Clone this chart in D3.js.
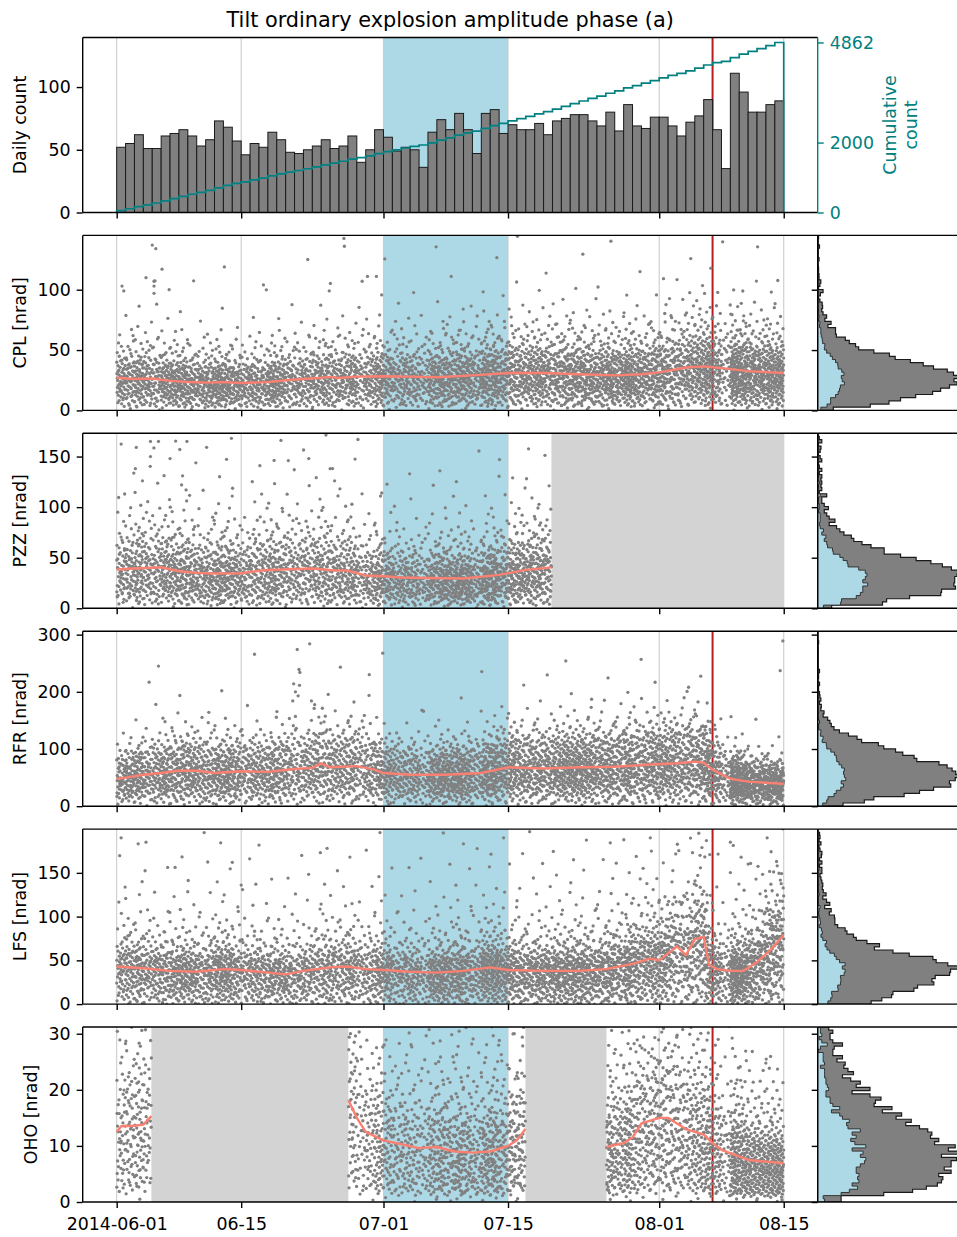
<!DOCTYPE html>
<html><head><meta charset="utf-8">
<script src="https://cdn.jsdelivr.net/npm/d3@7/dist/d3.min.js"></script>
<style>
html,body{margin:0;padding:0;background:#fff;}
svg{display:block;}
</style></head><body>
<svg id="chart" width="957" height="1237" xmlns="http://www.w3.org/2000/svg"></svg>
<script>
// ================= DATA =================
const chartTitle = "Tilt ordinary explosion amplitude phase (a)";
// daily event counts, 2014-06-01 ... 2014-08-14 (75 days), total 4862
const dailyCounts = [52,55,62,51,51,61,63,66,61,53, 58,73,68,57,46,55,52,64,58,48,
  47,50,53,58,51,53,61,40,50,66, 60,49,52,50,36,64,74,66,79,66,
  47,79,82,63,70,66,66,71,62,73, 75,78,78,73,69,80,65,86,69,67,
  76,76,69,61,72,77,90,66,35,111, 96,80,80,86,89];
const dailyTickValues = [0, 50, 100];
const cumulativeTickValues = [0, 2000, 4862];
const xTickDays = [0, 14, 30, 44, 61, 75];          // days after 2014-06-01
const xTickLabels = ["2014-06-01","06-15","07-01","07-15","08-01","08-15"];
const blueSpanDays = [30, 44];                      // 07-01 .. 07-15
const redLineDay = 67.0;                            // 08-07

const stationNames = ["CPL","PZZ","RFR","LFS","OHO"];
const stationYMax = [145, 173, 306, 200, 31.2];
const stationYTicks = [[0,50,100],[0,50,100,150],[0,100,200,300],[0,50,100,150],[0,10,20,30]];
const stationGaps = [[], [[48.88,75]], [], [], [[3.9,26.05],[45.96,55.07]]];

// running median lines [day, nrad]; null = break
const CPL_median = [[0,27],[2,26],[4,26.4],[6,24.5],[8,23.5],[10,23],[12,23.4],[14,22.7],[17,23.4],[19,25],[21,26],[23,27],[24,27.8],[25,26.8],[27,28],[30,28.3],[33,28],[36,27.5],[40,29],[44,31],[48,31],[52,30],[56,29],[59,30],[61,31.5],[64,35.5],[66,36.5],[68,35],[71,32.5],[75,31]];
const PZZ_median = [[0,38.3],[2,39.3],[5,40.6],[7,36.6],[9,35],[11,34.4],[14,34.7],[16.5,37.6],[19.5,38.6],[22,39.3],[24.5,37.3],[26,37.3],[28,32.4],[30,31.7],[32,30.4],[35,30],[39,29.5],[43,33],[46,38],[48.9,40.5]];
const RFR_median = [[0,48],[1,50],[3,55],[5,58],[7,62],[9,62],[11,58],[14,61],[17,60],[20,65],[22,67],[23,75],[24,68],[27,70],[29,64],[30,58],[33,55],[37,55],[41,58],[44,68],[48,66],[52,68],[56,69],[60,73],[63,75],[65,78],[66,76],[67,64],[69,48],[71,43],[75,39]];
const LFS_median = [[0,43],[3,41],[6,38],[9,37],[12,40],[14,39],[17,36],[19,34],[21,38],[24,42],[26,43],[28,40],[30,39],[33,37],[36,36],[39,38],[42,42],[44,39],[48,38],[52,38],[55,40],[58,46],[60,52],[61,50],[62,58],[63,66],[64,56],[65,74],[66,77],[66.6,45],[67.5,40],[69,38],[70.5,38],[72,48],[73.5,62],[75,79]];
const OHO_median = [[0,12.5],[0.5,13.5],[2,13.6],[3,13.8],[3.9,15.3],null,
  [26.05,18.2],[27,15],[28,12.5],[30,11],[32,10.3],[34,9.6],[36,9.8],[38,9],[40,8.8],[42,9],[44,10],[45,11],[45.96,13],null,
  [55.07,9.8],[57,10.5],[58,11.5],[59,14],[60,14.5],[61,15],[62,15],[63,14],[64,13],[65,12.5],[66,12],[67,10.5],[68,9.3],[71,7.5],[75,6.9]];

// amplitude distribution shapes (bin edges, relative density)
const CPL_binEdges = [0,3,6,10,14,19.5,25,30,33,37,43,47,55,65,77,95,145,170];
const CPL_binDensity = [40,180,220,290,360,395,410,390,320,270,160,100,55,22,7,1.6,0.4];
const PZZ_binEdges = [0,3,10,15,20,26.5,35,38,43,50,55,60,68,76,86,99,116,150,173];
const PZZ_binDensity = [30,190,310,380,380,385,420,370,240,210,155,90,60,38,18,11,5,1.5];
const RFR_binEdges = [0,3,15,24,33,44,53,61,70,82,97,105,117,129,149,167,202,290];
const RFR_binDensity = [25,130,240,330,370,410,410,360,310,250,150,85,45,18,6,2.5,0.5];
const LFS_binEdges = [0,4.6,12,18,26,31,37,43,48,54,64,69,80,96,115,153,199];
const LFS_binDensity = [160,220,290,350,380,420,390,330,210,120,80,50,25,13,7,3];
const OHO_binEdges = [0,1,1.6,3.4,4.6,5.5,6.4,7.5,8.7,9.9,12.3,13.5,14.7,16.5,18.3,20.7,22.5,25.5,31];
const OHO_binDensity = [60,180,320,360,330,370,420,370,330,320,240,190,120,80,70,50,35,25];

// isolated large amplitudes [day, nrad]
const CPL_outliers = [[0.6,103],[0.8,99],[3.3,110],[4.0,137],[4.2,107],[4.2,103],[4.2,97],[4.4,134],[4.5,88],[5.1,117],[5.9,100],[16.5,104],[23.9,99],[25.6,136],[27.6,107],[28.2,111],[29.2,111]];
const PZZ_outliers = [[0.9,113],[2.1,138],[2.2,159],[2.9,126],[3.8,150],[3.8,165],[4.7,165],[6,148],[7.1,157],[7.3,122],[7.8,117],[7.9,165],[12.9,168],[16.1,141],[19.3,146],[21.6,148],[24,138],[24.5,126],[29.8,114]];
const RFR_outliers = [[4.4,178],[4.7,245],[5.2,154],[10.3,146],[19.8,184],[19.9,214],[20.1,200],[20.1,157],[20.3,274],[20.4,193],[20.5,239],[20.6,234],[21.7,284],[21.9,184],[22.2,171],[27.6,149],[28.4,230],[34.5,166],[50.5,254],[53.4,187],[64.3,208],[74.6,237],[74.9,289]];
const LFS_outliers = [[0.5,190],[3.3,185],[13,162],[14,136],[22.9,173],[43.5,190],[60,190],[69,185],[71,160]];
const OHO_outliers = [];

// ================= LAYOUT =================
const FONT = "DejaVu Sans, Verdana, sans-serif";
const TICK_FS = 17.4;
const L = 82.7, R = 817.7, HR = 965, PH = 175;
const tops = [37.5, 235.4, 433.3, 631.2, 829.1, 1027.0];
const DAY = 864e5, T0 = Date.UTC(2014, 5, 1);
const toDate = d => new Date(T0 + d * DAY);
const x = d3.scaleUtc().domain([toDate(-3.82), toDate(78.82)]).range([L, R]);
function radicalInverse(i, b) { let f = 1, r = 0; while (i > 0) { f /= b; r += f * (i % b); i = Math.floor(i / b); } return r; }

const svg = d3.select("#chart");
const defs = svg.append("defs");

function styleAxis(g, color) {
  g.attr("font-size", TICK_FS).attr("font-family", FONT);
  g.select(".domain").remove();
  g.selectAll(".tick line").attr("stroke-width", 1.4).attr("stroke", color || "#000");
  g.selectAll(".tick text").attr("fill", color || "#000");
}
function addClip(id, x0, y0, w, h) {
  defs.append("clipPath").attr("id", id).append("rect").attr("x", x0).attr("y", y0).attr("width", w).attr("height", h);
}
function drawBlueAndGrid(g, y0) {
  const bx0 = x(toDate(blueSpanDays[0])), bx1 = x(toDate(blueSpanDays[1]));
  g.append("rect").attr("x", bx0).attr("y", y0).attr("width", bx1 - bx0).attr("height", PH).attr("fill", "#add8e6");
  g.selectAll("line.grid").data(xTickDays).join("line").attr("class", "grid")
    .attr("x1", d => x(toDate(d))).attr("x2", d => x(toDate(d)))
    .attr("y1", y0).attr("y2", y0 + PH).attr("stroke", "#cccccc").attr("stroke-width", 1.1);
}
function drawGaps(g, y0, gaps) {
  gaps.forEach(s => {
    const a = x(toDate(s[0])), b = x(toDate(s[1]));
    g.append("rect").attr("x", a).attr("y", y0).attr("width", b - a).attr("height", PH).attr("fill", "#d3d3d3");
  });
}
function drawRedLine(g, y0) {
  const rx = x(toDate(redLineDay));
  g.append("line").attr("x1", rx).attr("x2", rx).attr("y1", y0).attr("y2", y0 + PH)
    .attr("stroke", "#b81c1c").attr("stroke-width", 2);
}
function drawXAxis(y0, withLabels) {
  const ax = d3.axisBottom(x).tickValues(xTickDays.map(toDate)).tickSize(6).tickPadding(9.5)
    .tickFormat((d, i) => withLabels ? xTickLabels[i] : "");
  const g = svg.append("g").attr("transform", `translate(0,${y0 + PH})`).call(ax);
  styleAxis(g);
}
function drawYLabel(axisG, text, cy) {
  const bb = axisG.node().getBBox();
  const bx = L + bb.x - 7 - 4.3;
  svg.append("text").attr("transform", `translate(${bx},${cy}) rotate(-90)`)
    .attr("text-anchor", "middle").attr("font-size", TICK_FS).attr("font-family", FONT).text(text);
}
function spines(x0, x1, y0, colorRight) {
  const s = svg.append("g").attr("stroke-width", 1.4).attr("fill", "none");
  s.append("line").attr("x1", x0).attr("x2", x1).attr("y1", y0).attr("y2", y0).attr("stroke", "#000");
  s.append("line").attr("x1", x0).attr("x2", x1).attr("y1", y0 + PH).attr("y2", y0 + PH).attr("stroke", "#000");
  s.append("line").attr("x1", x0).attr("x2", x0).attr("y1", y0).attr("y2", y0 + PH).attr("stroke", "#000");
  if (colorRight) s.append("line").attr("x1", x1).attr("x2", x1).attr("y1", y0).attr("y2", y0 + PH).attr("stroke", colorRight);
}

// ================= TOP PANEL =================
(function () {
  const y0 = tops[0];
  const yTop = d3.scaleLinear().domain([0, 139.5]).range([y0 + PH, y0]);
  const yCum = d3.scaleLinear().domain([0, 5005]).range([y0 + PH, y0]);
  addClip("clip0", L, y0, R - L, PH);
  const g = svg.append("g").attr("clip-path", "url(#clip0)");
  drawBlueAndGrid(g, y0);
  drawRedLine(g, y0);
  g.selectAll("rect.bar").data(dailyCounts).join("rect").attr("class", "bar")
    .attr("x", (c, i) => x(toDate(i))).attr("width", (c, i) => x(toDate(i + 1)) - x(toDate(i)))
    .attr("y", c => yTop(c)).attr("height", c => yTop(0) - yTop(c))
    .attr("fill", "#808080").attr("stroke", "#1a1a1a").attr("stroke-width", 1);
  const cum = d3.cumsum(dailyCounts);
  const stepPts = [[0, 0]];
  dailyCounts.forEach((c, i) => { stepPts.push([i, cum[i]]); stepPts.push([i + 1, cum[i]]); });
  stepPts.push([dailyCounts.length, 0]);
  const line = d3.line().x(p => x(toDate(p[0]))).y(p => yCum(p[1]));
  g.append("path").attr("d", line(stepPts)).attr("fill", "none").attr("stroke", "#008080").attr("stroke-width", 1.7);

  spines(L, R, y0, "#008080");
  drawXAxis(y0, false);
  const ay = svg.append("g").attr("transform", `translate(${L},0)`)
    .call(d3.axisLeft(yTop).tickValues(dailyTickValues).tickSize(6).tickPadding(6));
  styleAxis(ay);
  drawYLabel(ay, "Daily count", y0 + PH / 2);
  const ar = svg.append("g").attr("transform", `translate(${R},0)`)
    .call(d3.axisRight(yCum).tickValues(cumulativeTickValues).tickSize(6).tickPadding(6).tickFormat(d3.format("d")));
  styleAxis(ar, "#008080");
  const cl = svg.append("g").attr("font-size", TICK_FS).attr("font-family", FONT).attr("fill", "#008080");
  cl.append("text").attr("transform", `translate(896,${y0 + PH / 2}) rotate(-90)`).attr("text-anchor", "middle").text("Cumulative");
  cl.append("text").attr("transform", `translate(916.5,${y0 + PH / 2}) rotate(-90)`).attr("text-anchor", "middle").text("count");
  svg.append("text").attr("x", (L + R) / 2).attr("y", 27).attr("text-anchor", "middle")
    .attr("font-size", 20.8).attr("font-family", FONT).text(chartTitle);
})();

// ================= STATION PANELS =================
const medians = [CPL_median, PZZ_median, RFR_median, LFS_median, OHO_median];
const binEdges = [CPL_binEdges, PZZ_binEdges, RFR_binEdges, LFS_binEdges, OHO_binEdges];
const binDens = [CPL_binDensity, PZZ_binDensity, RFR_binDensity, LFS_binDensity, OHO_binDensity];
const outliers = [CPL_outliers, PZZ_outliers, RFR_outliers, LFS_outliers, OHO_outliers];

function makeInvCDF(edges, dens) {
  const mass = dens.map((v, i) => v * (edges[i + 1] - edges[i]));
  const tot = d3.sum(mass);
  const cum = Array.from(d3.cumsum(mass), c => c / tot);
  return q => {
    let i = d3.bisectLeft(cum, q);
    if (i >= dens.length) i = dens.length - 1;
    const c0 = i ? cum[i - 1] : 0;
    const f = (q - c0) / (cum[i] - c0);
    return edges[i] + f * (edges[i + 1] - edges[i]);
  };
}

stationNames.forEach((name, p) => {
  const y0 = tops[p + 1];
  const ymax = stationYMax[p];
  const y = d3.scaleLinear().domain([0, ymax]).range([y0 + PH, y0]);
  const gaps = stationGaps[p];
  const inGap = t => gaps.some(s => t >= s[0] && t < s[1]);
  const knots = medians[p].filter(k => k);
  const medAt = d3.scaleLinear().domain(knots.map(k => k[0])).range(knots.map(k => k[1])).clamp(true);
  const inv = makeInvCDF(binEdges[p], binDens[p]);
  const shapeMed = inv(0.5);

  // each day's events spread over the day (Halton 2/3), amplitude from histogram shape around local median
  const pts = [];
  let gi = 1 + p * 7919;
  dailyCounts.forEach((n, d) => {
    for (let k = 0; k < n; k++, gi++) {
      const t = d + radicalInverse(gi, 2);
      const q = Math.min(0.9995, Math.max(0.0005, radicalInverse(gi, 3)));
      if (inGap(t)) continue;
      pts.push({ t: t, v: inv(q) * medAt(t) / shapeMed });
    }
  });
  outliers[p].forEach(o => { if (!inGap(o[0])) pts.push({ t: o[0], v: o[1] }); });

  addClip("clip" + (p + 1), L, y0, R - L, PH);
  const g = svg.append("g").attr("clip-path", `url(#clip${p + 1})`);
  drawBlueAndGrid(g, y0);
  drawRedLine(g, y0);
  drawGaps(g, y0, gaps);
  g.append("g").selectAll("circle").data(pts).join("circle")
    .attr("cx", d => x(toDate(d.t))).attr("cy", d => y(d.v)).attr("r", 1.65).attr("fill", "#808080");
  const ml = d3.line().defined(k => k !== null).x(k => x(toDate(k[0]))).y(k => y(k[1]));
  g.append("path").attr("d", ml(medians[p])).attr("fill", "none").attr("stroke", "#fa8072")
    .attr("stroke-width", 2.4).attr("stroke-linejoin", "round");

  spines(L, R, y0, "#000");
  drawXAxis(y0, p === stationNames.length - 1);
  const ay = svg.append("g").attr("transform", `translate(${L},0)`)
    .call(d3.axisLeft(y).tickValues(stationYTicks[p]).tickSize(6).tickPadding(6));
  styleAxis(ay);
  drawYLabel(ay, name + " [nrad]", y0 + PH / 2);

  // side histogram (all events, and the blue period)
  const bw = ymax / 55;
  const binner = d3.bin().value(d => d.v).domain([0, ymax]).thresholds(d3.range(bw, ymax - 1e-9, bw));
  const binsAll = binner(pts);
  const binsBlue = binner(pts.filter(d => d.t >= blueSpanDays[0] && d.t < blueSpanDays[1]));
  const maxC = d3.max(binsAll, b => b.length);
  const hx = d3.scaleLinear().domain([0, maxC * 1.05]).range([R, HR]);
  const histPath = bins => {
    const a = [[0, bins[0].x0]];
    bins.forEach(b => { a.push([b.length, b.x0]); a.push([b.length, b.x1]); });
    a.push([0, bins[bins.length - 1].x1]);
    return d3.line().x(c => hx(c[0])).y(c => y(c[1]))(a) + "Z";
  };
  addClip("hclip" + p, R, y0, HR - R, PH);
  const hg = svg.append("g").attr("clip-path", `url(#hclip${p})`);
  hg.append("path").attr("d", histPath(binsAll)).attr("fill", "#808080").attr("stroke", "#1a1a1a").attr("stroke-width", 1.2);
  hg.append("path").attr("d", histPath(binsBlue)).attr("fill", "#add8e6").attr("stroke", "#333").attr("stroke-width", 1);
  spines(R, HR, y0, null);
  const hy = svg.append("g").attr("transform", `translate(${R},0)`)
    .call(d3.axisLeft(y).tickValues(stationYTicks[p]).tickSize(6).tickFormat(""));
  styleAxis(hy);
});
</script>
</body></html>
